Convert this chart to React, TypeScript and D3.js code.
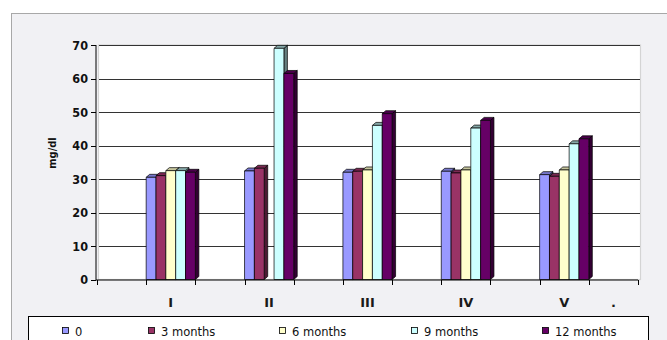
import React from "react";
import * as d3 from "d3";

const categories = ["", "I", "", "II", "", "III", "", "IV", "", "V", "."];
const seriesNames = ["0", "3 months", "6 months", "9 months", "12 months"];
const values0 = [null, 30.5, null, 32.4, null, 32.0, null, 32.3, null, 31.3, null];
const values3 = [null, 31.0, null, 33.2, null, 32.3, null, 31.8, null, 30.8, null];
const values6 = [null, 32.5, null, null, null, 32.7, null, 32.7, null, 32.7, null];
const values9 = [null, 32.5, null, 69.0, null, 46.0, null, 45.2, null, 40.5, null];
const values12 = [null, 32.0, null, 61.5, null, 49.5, null, 47.5, null, 42.0, null];
const yTicks = [0, 10, 20, 30, 40, 50, 60, 70];

const seriesValues = [values0, values3, values6, values9, values12];
const fronts = ["#9999FF", "#993366", "#FFFFCC", "#CCFFFF", "#660066"];
const tops = ["#7777cc", "#7a2952", "#c4c49c", "#86a8a8", "#4a004a"];
const sides = ["#4d4d80", "#4d1a33", "#808066", "#668080", "#330033"];

const W = 667;
const H = 340;

export default function App() {
  const x = d3.scaleBand<string>().domain(categories.map((_, i) => String(i))).range([97, 638]).padding(0);
  const y = d3.scaleLinear().domain([0, 70]).range([279.5, 45]);
  const xs = d3.scaleBand<string>().domain(seriesNames).range([0, x.bandwidth()]).padding(0);
  const dx = 3.5;
  const dy = 3;
  const font = "'DejaVu Sans', Verdana, sans-serif";
  const condensed = "'DejaVu Sans Condensed', 'DejaVu Sans', sans-serif";
  const bars: React.ReactNode[] = [];
  categories.forEach((_, ci) => {
    seriesNames.forEach((s, si) => {
      const v = seriesValues[si][ci];
      if (v == null) return;
      const bx = (x(String(ci)) as number) + (xs(s) as number);
      const bw = xs.bandwidth();
      const by = y(v);
      const bb = y(0);
      bars.push(
        <g key={`${ci}-${si}`} stroke="#000" strokeWidth={0.7} strokeLinejoin="round">
          <polygon points={`${bx + bw},${by} ${bx + bw + dx},${by - dy} ${bx + bw + dx},${bb - dy} ${bx + bw},${bb}`} fill={sides[si]} />
          <polygon points={`${bx},${by} ${bx + dx},${by - dy} ${bx + bw + dx},${by - dy} ${bx + bw},${by}`} fill={tops[si]} />
          <rect x={bx} y={by} width={bw} height={bb - by} fill={fronts[si]} />
        </g>
      );
    });
  });

  const legendX = [62, 148, 279, 411, 542];

  return (
    <svg width={W} height={H} style={{ position: "absolute", left: 0, top: 0 }} fontFamily={font}>
      <rect x={0} y={0} width={W} height={H} fill="#ffffff" />
      <rect x={11.5} y={13.5} width={W} height={H} fill="#f1f1f4" stroke="#a8a8a8" />
      {/* back wall */}
      <rect x={98.5} y={45} width={542} height={234.5} fill="#ffffff" stroke="#d4d4d4" strokeWidth={1.2} />
      {yTicks.slice(1).map((t) => (
        <line key={t} x1={99} x2={640} y1={Math.round(y(t)) + 0.5} y2={Math.round(y(t)) + 0.5} stroke="#333" strokeWidth={1} />
      ))}
      {/* y axis */}
      <line x1={96} x2={96} y1={45} y2={280} stroke="#000" />
      {yTicks.map((t) => (
        <g key={t}>
          <line x1={91} x2={96} y1={Math.round(y(t)) + 0.5} y2={Math.round(y(t)) + 0.5} stroke="#000" />
          <text x={88} y={y(t) + 4.5} textAnchor="end" fontSize={12.5} fontFamily={condensed} fontWeight="bold" fill="#111">{t}</text>
        </g>
      ))}
      <text transform="translate(56,153) rotate(-90)" textAnchor="middle" fontSize={11} fontFamily={condensed} fontWeight="bold" fill="#111">mg/dl</text>
      {bars}
      {/* x axis */}
      <line x1={96} x2={638} y1={280} y2={280} stroke="#000" />
      {d3.range(categories.length + 1).map((i) => {
        const px = Math.round(97 + i * x.step()) + 0.5;
        return <line key={i} x1={px} x2={px} y1={280} y2={285} stroke="#000" />;
      })}
      {categories.map((c, i) => (
        <text key={i} x={(x(String(i)) as number) + x.bandwidth() / 2} y={307} textAnchor="middle" fontSize={13} fontWeight="bold" fill="#1a1a1a">{c}</text>
      ))}
      {/* legend */}
      <rect x={28.5} y={316.5} width={620} height={40} fill="#ffffff" stroke="#000" />
      {seriesNames.map((s, i) => (
        <g key={s}>
          <rect x={legendX[i] + 0.5} y={327.5} width={6} height={6} fill={fronts[i]} stroke="#000" strokeWidth={0.8} />
          <text x={legendX[i] + 13} y={336} fontSize={11.5} fill="#111">{s}</text>
        </g>
      ))}
    </svg>
  );
}
